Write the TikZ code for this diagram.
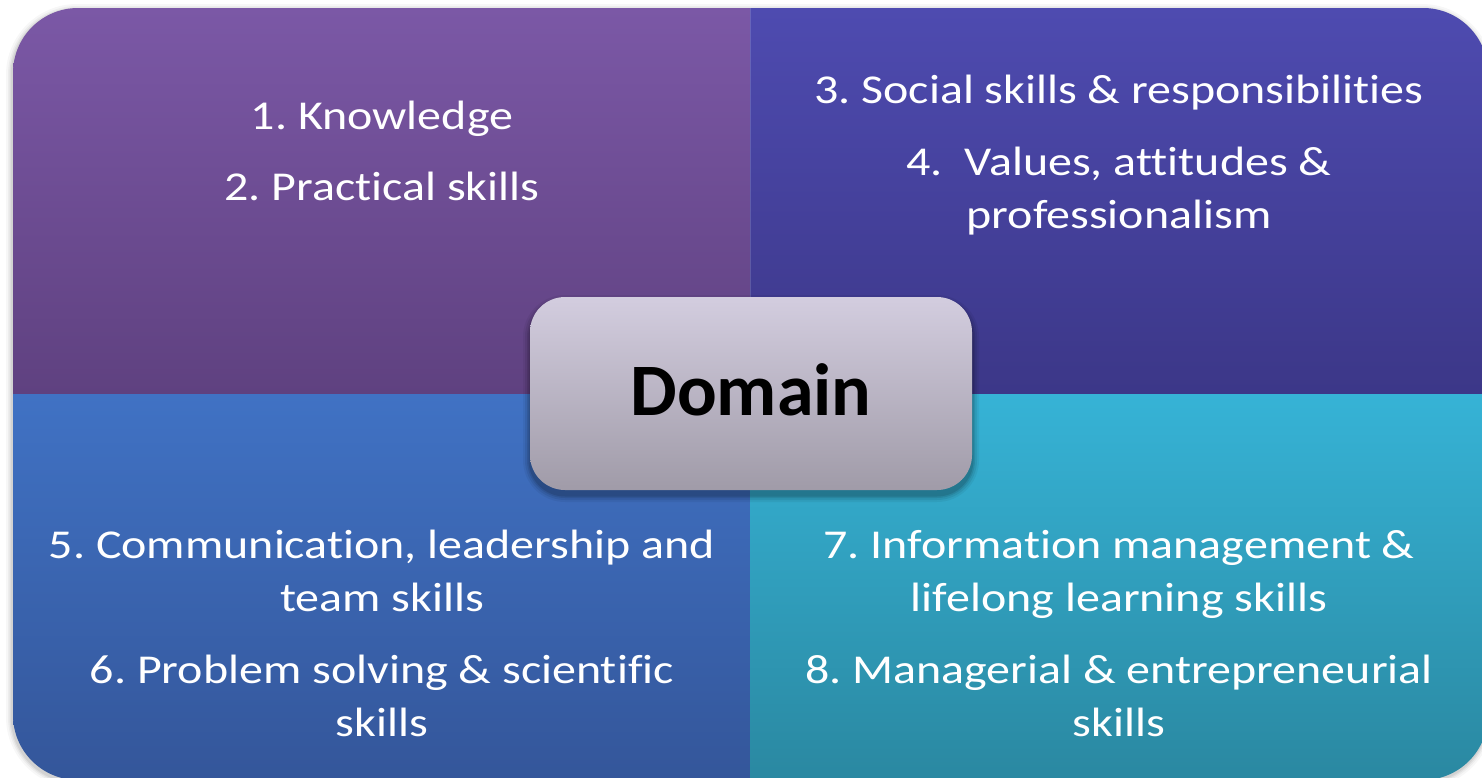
\documentclass[tikz,border=0pt]{standalone}
\usepackage{fontspec}
\setmainfont{Carlito}[Ligatures=NoCommon]
\newfontfamily\itemfont{Carlito}[Ligatures=NoCommon, FakeStretch=1.17]
\frenchspacing

% quadrant gradients
\definecolor{tlTop}{HTML}{7B58A6}
\definecolor{tlBot}{HTML}{5F4180}
\definecolor{trTop}{HTML}{4E4BB0}
\definecolor{trBot}{HTML}{3C3788}
\definecolor{blTop}{HTML}{4072C4}
\definecolor{blBot}{HTML}{34569A}
\definecolor{brTop}{HTML}{36B3D6}
\definecolor{brBot}{HTML}{2A88A1}
% centre box gradient
\definecolor{boxTop}{HTML}{D3CDDF}
\definecolor{boxBot}{HTML}{A09BA8}

\tikzset{
  itemtext/.style={text=white, inner sep=0pt, anchor=base,
    font=\itemfont\fontsize{41}{52}\selectfont},
  domaintext/.style={text=black, inner sep=0pt, anchor=base,
    font=\bfseries\fontsize{74}{74}\selectfont},
}

\begin{document}
\begin{tikzpicture}[x=1pt,y=-1pt]
  \useasboundingbox (0,0) rectangle (1482,777);
  \clip (0,0) rectangle (1482,777);
  \fill[white] (0,0) rectangle (1482,777);

  % soft outer shadow
  \foreach \k/\op in {6/0.03,4/0.04,2.5/0.05,1.2/0.06}{
    \fill[black, opacity=\op, rounded corners=65+\k]
      (13-\k-1,8-\k+2) rectangle (1488+\k-1,780+\k+2);
  }

  % four quadrants inside one rounded outline
  \begin{scope}
    \clip[rounded corners=65] (13,8) rectangle (1488,780);
    \shade[top color=tlTop, bottom color=tlBot] (13,8) rectangle (750,394);
    \shade[top color=trTop, bottom color=trBot] (750,8) rectangle (1488,394);
    \shade[top color=blTop, bottom color=blBot] (13,394) rectangle (750,780);
    \shade[top color=brTop, bottom color=brBot] (750,394) rectangle (1488,780);
    \draw[white, opacity=0.15, line width=1pt] (750,8) -- (750,394);
  \end{scope}

  % quadrant texts
  \node[itemtext] (k1)  at (382,129) {1. Knowledge};
  \node[itemtext] (k2)  at (382,200) {2. Practical skills};

  \node[itemtext] (k3)  at (1119,103) {3. Social skills \& responsibilities};
  \node[itemtext] (k4a) at (1119,175) {4.\ \ Values, attitudes \&};
  \node[itemtext] (k4b) at (1119,228) {professionalism};

  \node[itemtext] (k5a) at (382,558) {5. Communication, leadership and};
  \node[itemtext] (k5b) at (382,611) {team skills};
  \node[itemtext] (k6a) at (382,683) {6. Problem solving \& scientific};
  \node[itemtext] (k6b) at (382,736) {skills};

  \node[itemtext] (k7a) at (1119,558) {7. Information management \&};
  \node[itemtext] (k7b) at (1119,611) {lifelong learning skills};
  \node[itemtext] (k8a) at (1119,683) {8. Managerial \& entrepreneurial};
  \node[itemtext] (k8b) at (1119,736) {skills};

  % centre box with drop shadow
  \foreach \k/\op in {7/0.05,5/0.07,3/0.09,1.5/0.11}{
    \fill[black, opacity=\op, rounded corners=35+\k]
      (530-\k,297-\k+5) rectangle (972+\k,490+\k+5);
  }
  \shade[top color=boxTop, bottom color=boxBot, rounded corners=35]
    (530,297) rectangle (972,490);
  \node[domaintext] (dom) at (751,415) {Domain};
\end{tikzpicture}
\end{document}
